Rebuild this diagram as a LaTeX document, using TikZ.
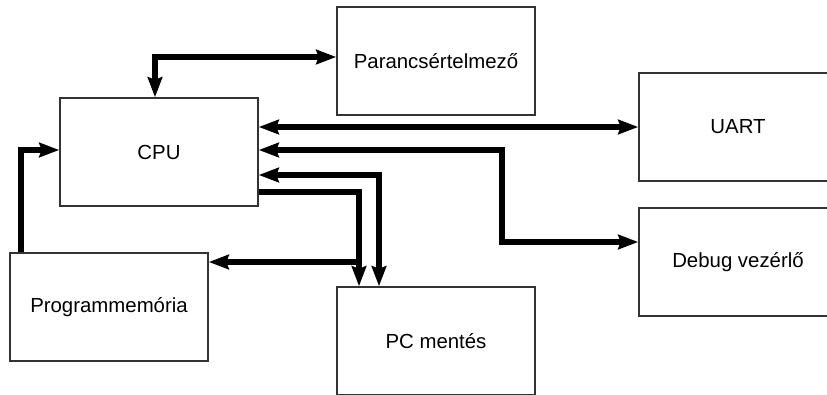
\documentclass[tikz,border=0pt]{standalone}
\usepackage{fontspec}
\setsansfont{Liberation Sans}
\usetikzlibrary{arrows.meta}
\definecolor{cframe}{HTML}{333333}
\definecolor{cbus}{HTML}{000000}
\tikzset{
  every picture/.style={font=\sffamily\fontsize{14.5}{17}\selectfont},
  block/.style={draw=cframe, line width=1pt, minimum width=4.95cm, minimum height=2.7cm, inner sep=0pt, align=center},
  bus/.style={draw=cbus, line width=3.6pt},
  >={Stealth[length=5mm, width=3.6mm, inset=0.6mm]},
}
\begin{document}
\begin{tikzpicture}[x=0.025cm, y=-0.025cm]
  \useasboundingbox (0,0) rectangle (827,394);
  \node[block] (parser) at (436,61) {Parancsértelmező};
  \node[block] (cpu) at (159,152) {CPU};
  \node[block] (uart) at (738,127) {UART};
  \node[block] (debug) at (738,262) {Debug vezérlő};
  \node[block] (pc) at (436,341) {PC mentés};
  \node[block] (prog) at (109,307) {Programmemória};
  % bends of the buses
  \coordinate (b1) at (155,57);
  \coordinate (b2) at (502,150);
  \coordinate (b3) at (502,242);
  \coordinate (b4) at (379,175);
  \coordinate (b5) at (359,192);
  \coordinate (b6) at (359,262);
  \coordinate (b7) at (21,150);
  \draw[bus, <->] (cpu.north -| b1) |- (parser.west |- b1);
  \draw[bus, <->] (cpu.east |- uart.west) -- (uart.west);
  \draw[bus, <->] (cpu.east |- b2) -| (b3) -- (debug.west |- b3);
  \draw[bus, <->] (cpu.east |- b4) -| (pc.north -| b4);
  \draw[bus, ->] (cpu.east |- b5) -| (pc.north -| b5);
  \draw[bus, ->] (b6) -- (prog.east |- b6);
  \draw[bus, ->] (prog.north -| b7) |- (cpu.west |- b7);
\end{tikzpicture}
\end{document}
